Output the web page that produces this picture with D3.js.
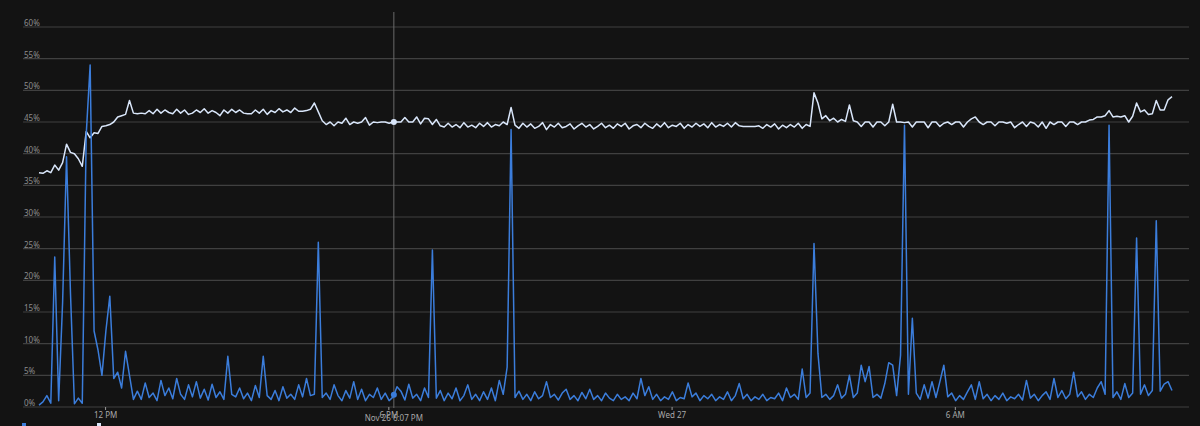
<!DOCTYPE html>
<html><head><meta charset="utf-8">
<script src="https://cdn.jsdelivr.net/npm/d3@7"></script>
<style>html,body{margin:0;padding:0;background:#131313;overflow:hidden}</style>
</head><body><svg id="c" width="1200" height="426"></svg>
<script>
// ---- data ----
const startTime = new Date(2024, 10, 26, 10, 36);
const stepMinutes = 5;

const memoryValues = [
37.0,36.9,37.3,37.0,38.2,37.4,38.6,41.5,40.2,40.0,39.2,38.0,43.5,42.5,43.3,43.2,44.3,44.4,44.6,45.0,45.8,46.0,46.2,48.4,
46.4,46.3,46.4,46.3,46.8,46.3,47.0,46.4,46.9,46.5,46.3,47.0,46.4,46.9,46.2,46.4,46.9,46.5,47.1,46.4,46.8,46.5,46.0,46.9,46.4,47.0,46.5,46.9,46.4,46.3,46.3,46.9,46.4,47.0,46.2,46.8,46.5,47.1,46.6,46.9,46.5,47.2,46.7,46.7,46.8,
47.0,48.0,46.6,
45.2,44.6,45.0,44.4,45.0,44.8,45.6,44.6,45.0,44.8,45.0,45.7,44.5,45.0,44.9,45.0,45.0,44.8,45.0,45.0,45.0,45.7,45.0,45.0,45.8,44.7,45.6,45.5,
44.6,45.4,44.4,44.2,44.8,44.2,44.6,44.1,44.9,44.2,44.5,44.1,44.8,44.3,44.9,44.2,44.6,44.4,45.0,44.6,
47.3,
44.5,44.0,44.8,44.2,44.7,44.0,44.3,44.9,43.8,44.6,
44.2,44.8,44.1,44.3,44.7,43.9,44.4,44.8,44.2,44.6,
43.9,44.3,44.8,44.1,44.5,44.0,44.7,44.3,44.8,43.9,
44.4,44.6,44.1,44.8,44.3,44.0,44.7,44.2,44.9,44.1,
44.5,44.3,44.8,44.0,44.6,44.2,44.8,44.3,44.7,44.1,
44.9,44.2,44.6,44.3,44.8,44.2,44.9,44.4,44.3,44.3,
44.3,44.3,44.4,44.0,44.6,44.2,44.7,43.9,44.5,44.1,
44.6,44.2,44.8,44.0,44.6,44.3,
49.6,48.0,45.5,46.0,45.2,45.6,45.0,45.4,45.1,47.7,45.2,45.0,44.3,45.0,45.0,44.2,45.0,45.0,44.4,45.0,47.8,
45.0,45.0,44.9,45.0,44.2,45.0,45.0,45.0,44.1,45.0,
45.0,44.3,44.8,45.0,44.6,45.0,45.0,44.2,45.0,45.5,
45.8,45.0,44.6,45.0,45.0,44.4,45.0,45.0,44.8,45.0,
44.1,44.6,45.0,44.3,45.0,44.8,44.2,45.0,44.0,45.0,
44.6,45.0,45.0,44.3,45.0,45.0,44.6,45.0,45.0,45.3,
45.4,45.8,45.8,46.0,46.8,45.8,45.9,45.8,46.0,45.0,45.9,48.0,46.6,46.9,46.2,46.3,48.4,46.9,46.9,48.5,49.0
];

const cpuValues = [
0.3,0.8,1.8,0.6,23.7,1.0,16.5,39.5,18.0,0.5,1.4,0.6,43.0,54.0,12.0,9.0,5.0,12.0,17.5,4.5,5.5,3.0,8.8,5.0,1.2,
2.5,1.2,3.8,1.5,2.2,1.0,4.2,1.8,3.0,1.3,
4.5,2.0,1.2,3.5,1.6,4.0,1.4,2.8,1.1,3.6,
1.5,2.4,1.2,8.0,2.0,1.6,3.0,1.3,2.2,1.0,
3.4,1.5,8.0,1.8,1.2,2.6,1.0,3.2,1.4,2.0,
1.2,3.5,1.6,4.5,1.8,
2.0,26.0,
1.5,2.2,1.2,3.5,1.8,1.0,2.6,1.4,4.0,1.2,
2.8,1.0,2.0,1.5,3.0,1.2,2.2,1.0,1.6,3.2,
2.5,1.1,3.6,1.4,2.0,1.0,3.0,1.5,24.8,1.4,
2.6,1.0,2.2,1.3,3.0,1.0,1.8,3.5,1.2,2.0,
1.0,2.4,1.2,3.0,1.0,4.2,2.0,
6.3,43.8,
1.5,2.5,1.2,2.0,1.0,2.4,1.3,1.8,4.0,1.5,
2.0,1.1,2.2,2.8,1.2,1.8,1.0,2.3,1.3,2.8,
1.2,1.8,1.0,2.2,1.4,1.0,2.0,1.2,1.6,1.0,
2.2,1.3,4.5,1.8,3.2,1.2,2.0,1.0,1.6,1.2,
2.4,1.0,1.5,1.3,3.8,1.6,2.2,1.0,1.8,1.3,
2.0,1.0,1.6,1.2,2.4,1.0,1.8,3.7,1.3,2.0,
1.0,1.6,1.2,2.0,1.0,1.5,1.3,2.2,1.0,3.0,
1.5,2.0,1.2,6.0,1.5,2.2,
25.8,8.5,
1.5,2.0,1.2,1.8,3.5,1.4,2.0,5.0,1.5,2.2,
6.6,4.0,6.4,1.5,2.0,1.4,3.7,7.0,6.6,1.8,
8.2,44.5,2.0,14.0,2.2,1.2,3.5,1.4,4.0,1.5,
4.0,6.6,
1.6,2.2,1.0,1.8,1.2,2.4,3.5,1.2,4.0,1.3,
2.0,1.0,1.8,1.2,2.2,1.0,1.6,1.3,2.0,1.1,
4.2,1.4,2.0,1.0,1.8,2.4,1.2,4.5,1.5,2.6,
1.3,2.0,5.5,1.6,2.4,1.2,2.0,1.5,3.0,4.0,
2.0,
44.5,
1.5,2.4,1.2,3.7,1.5,2.2,26.7,2.0,3.5,1.8,2.6,29.4,2.5,3.6,4.0,2.6
];

const yTickValues = [0,5,10,15,20,25,30,35,40,45,50,55,60];
const xTickTimes = [new Date(2024,10,26,12,0), new Date(2024,10,26,18,0), new Date(2024,10,27,0,0), new Date(2024,10,27,6,0)];
const xTickLabels = ["12 PM", "6 PM", "Wed 27", "6 AM"];
const cursorTime = new Date(2024,10,26,18,7);
const cursorLabel = "Nov 26 6:07 PM";

// ---- layout ----
const W = 1200, H = 426;
const plotLeft = 23, plotRight = 1189, plotTop = 27, plotBottom = 407;
const dataLeft = 39, dataRight = 1172;
const font = "'Noto Sans', 'DejaVu Sans', sans-serif";
const memColor = "#d9e6fa", cpuColor = "#3b7ddb";

const svg = d3.select("#c");
svg.append("rect").attr("width", W).attr("height", H).attr("fill", "#131313");

const times = memoryValues.map((v, i) => new Date(startTime.getTime() + i * stepMinutes * 60000));
const memData = memoryValues.map((v, i) => ({t: times[i], v}));
const cpuData = cpuValues.map((v, i) => ({t: times[i], v}));

const x = d3.scaleTime().domain([times[0], times[times.length - 1]]).range([dataLeft, dataRight]);
const y = d3.scaleLinear().domain([0, 60]).range([plotBottom, plotTop]);

// grid
const grid = svg.append("g");
grid.selectAll("line").data(yTickValues).join("line")
  .attr("x1", plotLeft).attr("x2", plotRight)
  .attr("y1", d => y(d)).attr("y2", d => y(d))
  .attr("stroke", "#404040").attr("stroke-width", 1.2);
grid.selectAll("text").data(yTickValues).join("text")
  .attr("x", plotLeft + 1).attr("y", d => y(d) - 1)
  .attr("fill", "#8c8c8c").attr("font-family", font).attr("font-size", 8)
  .text(d => d + "%");

// x axis
const xAxis = d3.axisBottom(x).tickValues(xTickTimes)
  .tickFormat((d, i) => xTickLabels[i]).tickSize(3).tickPadding(2);
const gx = svg.append("g").attr("transform", `translate(0,${plotBottom})`).call(xAxis);
gx.select(".domain").remove();
gx.selectAll(".tick line").attr("stroke", "#9a9a9a");
gx.selectAll(".tick text").attr("fill", "#a8a8a8").attr("font-family", font).attr("font-size", 8);

// cursor line
svg.append("line").attr("x1", x(cursorTime)).attr("x2", x(cursorTime))
  .attr("y1", 12).attr("y2", plotBottom + 1)
  .attr("stroke", "#6a6a6a").attr("stroke-width", 1);

// series
const line = d3.line().x(d => x(d.t)).y(d => y(d.v));
svg.append("path").datum(memData).attr("d", line)
  .attr("fill", "none").attr("stroke", memColor).attr("stroke-width", 1.5).attr("stroke-linejoin", "round");
svg.append("path").datum(cpuData).attr("d", line)
  .attr("fill", "none").attr("stroke", cpuColor).attr("stroke-width", 1.5).attr("stroke-linejoin", "round");

// cursor dots
const bis = d3.bisector(d => d.t).left;
function valueAt(data, t) {
  const i = Math.min(Math.max(bis(data, t), 1), data.length - 1);
  const a = data[i - 1], b = data[i];
  const f = (t - a.t) / (b.t - a.t);
  return a.v + (b.v - a.v) * f;
}
svg.append("circle").attr("cx", x(cursorTime)).attr("cy", y(valueAt(memData, cursorTime)))
  .attr("r", 3).attr("fill", memColor);
svg.append("circle").attr("cx", x(cursorTime)).attr("cy", y(valueAt(cpuData, cursorTime)))
  .attr("r", 3).attr("fill", cpuColor);

// cursor label
svg.append("text").attr("x", x(cursorTime)).attr("y", 421)
  .attr("text-anchor", "middle").attr("fill", "#a8a8a8")
  .attr("font-family", font).attr("font-size", 8).text(cursorLabel);

// legend swatches (cut off at bottom)
const legendColors = [cpuColor, memColor];
svg.selectAll(".lg").data(legendColors).join("rect").attr("class", "lg")
  .attr("x", (d, i) => 22 + i * 75).attr("y", 423).attr("width", 4).attr("height", 6)
  .attr("fill", d => d);
</script>
</body></html>
